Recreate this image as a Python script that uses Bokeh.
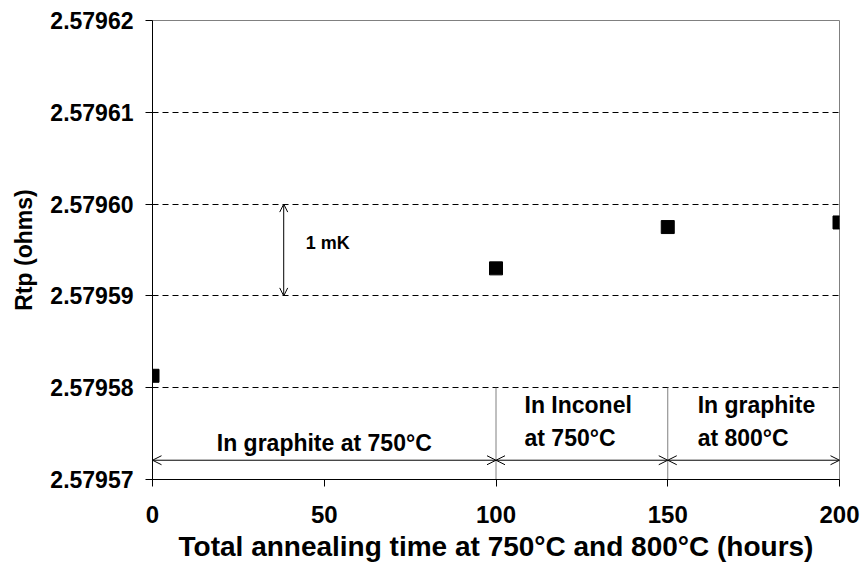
from bokeh.plotting import figure
from bokeh.models import FixedTicker, PrintfTickFormatter, Arrow, OpenHead, Label, Range1d
from bokeh.embed import file_html
from bokeh.resources import INLINE

# data
hours = [0, 100, 150, 200]
rtp = [2.5795813, 2.5795930, 2.5795975, 2.5795980]
y_ticks = [2.57957, 2.57958, 2.57959, 2.57960, 2.57961, 2.57962]
x_ticks = [0, 50, 100, 150, 200]

# annotation spans
span_starts = [0, 100, 150]
span_ends = [100, 150, 200]
span_arrow_y = 2.5795721
divider_x = [100, 150]
divider_top = 2.57958
divider_bottom = 2.57957
mk_x = 38.2
mk_low = 2.57959
mk_high = 2.57960

FONT = "Liberation Sans"

p = figure(width=860, height=571, output_backend="svg", toolbar_location=None,
           x_range=Range1d(0, 200), y_range=Range1d(2.57957, 2.57962),
           min_border_left=152, min_border_right=21, min_border_top=20, min_border_bottom=92)

p.background_fill_color = "white"
p.border_fill_color = "white"
p.outline_line_color = "#808080"
p.outline_line_width = 1

# grids
p.xgrid.visible = False
p.ygrid.grid_line_color = "black"
p.ygrid.grid_line_dash = "6 4"
p.ygrid.grid_line_width = 1

# axes
for ax in (p.xaxis[0], p.yaxis[0]):
    ax.axis_line_color = "black"
    ax.major_tick_line_color = "black"
    ax.major_tick_out = 7
    ax.major_tick_in = 0
    ax.minor_tick_line_color = None
    ax.major_label_text_font = FONT
    ax.major_label_text_font_style = "bold"
    ax.major_label_text_color = "black"
    ax.axis_label_text_font = FONT
    ax.axis_label_text_font_style = "bold"
    ax.axis_label_text_color = "black"

p.xaxis.major_label_text_font_size = "24px"
p.yaxis.major_label_text_font_size = "23px"
p.xaxis.axis_label_text_font_size = "28px"
p.yaxis.axis_label_text_font_size = "23px"

p.xaxis.ticker = FixedTicker(ticks=x_ticks)
p.yaxis.ticker = FixedTicker(ticks=y_ticks)
p.yaxis.formatter = PrintfTickFormatter(format="%.5f")
p.xaxis.major_label_standoff = 19
p.yaxis.major_label_standoff = 12
p.xaxis.axis_label = "Total annealing time at 750°C and 800°C (hours)"
p.yaxis.axis_label = "Rtp (ohms)"
p.xaxis.axis_label_standoff = 5
p.yaxis.axis_label_standoff = 10

# divider lines
p.segment(x0=divider_x, x1=divider_x, y0=[divider_top] * 2, y1=[divider_bottom] * 2,
          line_color="#808080", line_width=1)

# span arrows
for xs, xe in zip(span_starts, span_ends):
    p.add_layout(Arrow(start=OpenHead(size=9, line_width=1), end=OpenHead(size=9, line_width=1),
                       x_start=xs, x_end=xe, y_start=span_arrow_y, y_end=span_arrow_y,
                       line_width=1, line_color="black"))

# 1 mK arrow
p.add_layout(Arrow(start=OpenHead(size=8, line_width=1), end=OpenHead(size=8, line_width=1),
                   x_start=mk_x, x_end=mk_x, y_start=mk_low, y_end=mk_high,
                   line_width=1, line_color="black"))

labels = [
    ("1 mK", 44.6, 2.5795958, "left", 18),
    ("In graphite at 750°C", 50, 2.5795740, "center", 23),
    ("In Inconel", 108.3, 2.5795781, "left", 23),
    ("at 750°C", 108.3, 2.5795745, "left", 23),
    ("In graphite", 158.7, 2.5795781, "left", 23),
    ("at 800°C", 158.7, 2.5795745, "left", 23),
]
for txt, lx, ly, align, fs in labels:
    p.add_layout(Label(x=lx, y=ly, text=txt, text_align=align, text_baseline="middle",
                       text_font=FONT, text_font_style="bold", text_font_size=f"{fs}px",
                       text_color="black"))

# data points
p.scatter(hours, rtp, marker="square", size=13, fill_color="black", line_color="black")

open("out.html", "w").write(file_html(p, INLINE))
